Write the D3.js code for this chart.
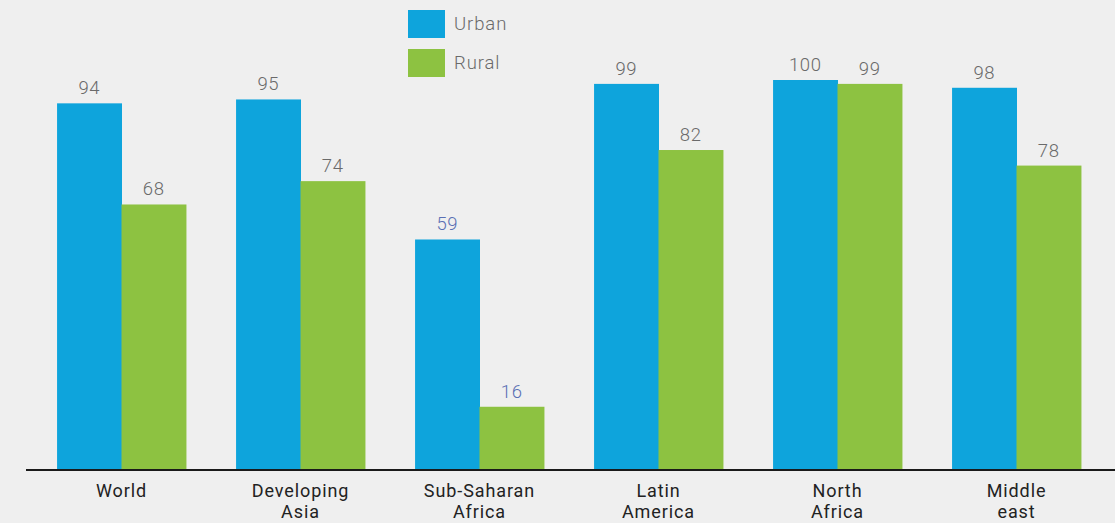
<!DOCTYPE html>
<html>
<head>
<meta charset="utf-8">
<script src="https://cdn.jsdelivr.net/npm/d3@7"></script>
<style>
  body { margin: 0; background: #efefef; }
  svg { display: block; font-family: Roboto, "Open Sans", sans-serif; }
</style>
</head>
<body>
<svg id="chart"></svg>
<script>
"use strict";

// Data
var regions = [["World"], ["Developing", "Asia"], ["Sub-Saharan", "Africa"], ["Latin", "America"], ["North", "Africa"], ["Middle", "east"]];
var urban = [94, 95, 59, 99, 100, 98];
var rural = [68, 74, 16, 82, 99, 78];
var seriesNames = ["Urban", "Rural"];
var seriesColors = ["#0ea4dc", "#8dc241"];

// Dimensions
var width = 1115, height = 523;
var baseline = 469;

var svg = d3.select('#chart')
  .attr('width', width)
  .attr('height', height);

svg.append('rect')
  .attr('width', width)
  .attr('height', height)
  .attr('fill', '#efefef');

// Scales
var x = d3.scaleBand()
  .domain(d3.range(regions.length))
  .range([32, 1106])
  .paddingInner(0.28)
  .paddingOuter(0.14);

var xSub = d3.scaleBand()
  .domain([0, 1])
  .range([0, x.bandwidth()]);

var y = d3.scaleLinear()
  .domain([0, 100])
  .range([baseline, 80]);

// Bars
var rows = regions.map(function(r, i){
  return [urban[i], rural[i]];
});

var groups = svg.append('g')
  .selectAll('g')
  .data(rows)
  .enter()
  .append('g')
    .attr('transform', (d, i) => `translate(${x(i)}, 0)`);

groups.selectAll('rect')
  .data(d => d)
  .enter()
  .append('rect')
    .attr('x', (d, j) => xSub(j))
    .attr('y', d => y(d))
    .attr('width', xSub.bandwidth() + 0.5)
    .attr('height', d => baseline - y(d))
    .attr('fill', (d, j) => seriesColors[j]);

// Value labels (Sub-Saharan Africa highlighted in blue-grey)
groups.each(function(d, i){
  d3.select(this).selectAll('text.val')
    .data(d)
    .enter()
    .append('text')
      .attr('class', 'val')
      .attr('x', (v, j) => xSub(j) + xSub.bandwidth()/2)
      .attr('y', v => y(v) - 9)
      .attr('text-anchor', 'middle')
      .attr('font-size', '18.5px')
      .attr('font-weight', 300)
      .attr('letter-spacing', '0.6px')
      .attr('fill', i === 2 ? '#5a6fb4' : '#6a6a6a')
      .text(v => v);
});

// Axis line
svg.append('line')
  .attr('x1', 26)
  .attr('x2', width)
  .attr('y1', baseline + 1)
  .attr('y2', baseline + 1)
  .attr('stroke', '#1a1a1a')
  .attr('stroke-width', 2);

// Category labels
var cats = svg.append('g')
  .selectAll('text')
  .data(regions)
  .enter()
  .append('text')
    .attr('x', (d, i) => x(i) + x.bandwidth()/2)
    .attr('y', 497)
    .attr('text-anchor', 'middle')
    .attr('font-size', '18px')
    .attr('letter-spacing', '0.9px')
    .attr('fill', '#222');

cats.selectAll('tspan')
  .data(d => d)
  .enter()
  .append('tspan')
    .attr('x', function(){ return d3.select(this.parentNode).attr('x'); })
    .attr('dy', (d, k) => k === 0 ? 0 : 21)
    .text(d => d);

// Legend
var legend = svg.append('g')
  .attr('transform', 'translate(408, 10)');

legend.selectAll('rect')
  .data(seriesNames)
  .enter()
  .append('rect')
    .attr('x', 0)
    .attr('y', (d, i) => i * 39)
    .attr('width', 37)
    .attr('height', 28)
    .attr('fill', (d, i) => seriesColors[i]);

legend.selectAll('text')
  .data(seriesNames)
  .enter()
  .append('text')
    .attr('x', 46)
    .attr('y', (d, i) => i * 39 + 20)
    .attr('font-size', '18.5px')
    .attr('font-weight', 300)
    .attr('letter-spacing', '0.9px')
    .attr('fill', '#6a6a6a')
    .text(d => d);
</script>
</body>
</html>
